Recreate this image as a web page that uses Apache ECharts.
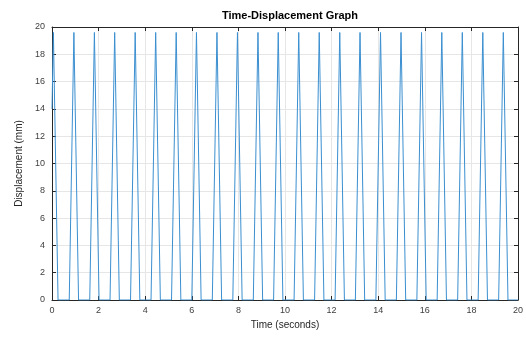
<!DOCTYPE html>
<html>
<head>
<meta charset="utf-8">
<script src="https://cdn.jsdelivr.net/npm/echarts@6/dist/echarts.min.js"></script>
<style>html,body{margin:0;padding:0;background:#fff}#c{width:526px;height:338px}</style>
</head>
<body>
<div id="c"></div>
<script>
// Time (s) of each vertex of the displacement curve
var timeSeconds = [
  0, 0.06, 0.26,
  0.74, 0.94, 1.14,
  1.62, 1.82, 2.02,
  2.49, 2.69, 2.89,
  3.37, 3.57, 3.77,
  4.25, 4.45, 4.65,
  5.13, 5.33, 5.53,
  6.00, 6.20, 6.40,
  6.88, 7.08, 7.28,
  7.76, 7.96, 8.16,
  8.64, 8.84, 9.04,
  9.51, 9.71, 9.91,
  10.39, 10.59, 10.79,
  11.27, 11.47, 11.67,
  12.15, 12.35, 12.55,
  13.02, 13.22, 13.42,
  13.90, 14.10, 14.30,
  14.78, 14.98, 15.18,
  15.66, 15.86, 16.06,
  16.53, 16.73, 16.93,
  17.41, 17.61, 17.81,
  18.29, 18.49, 18.69,
  19.17, 19.37, 19.57,
  20
];
// Displacement (mm) at each of those times
var displacementMm = [
  14, 19.6, 0,
  0, 19.6, 0,
  0, 19.6, 0,
  0, 19.6, 0,
  0, 19.6, 0,
  0, 19.6, 0,
  0, 19.6, 0,
  0, 19.6, 0,
  0, 19.6, 0,
  0, 19.6, 0,
  0, 19.6, 0,
  0, 19.6, 0,
  0, 19.6, 0,
  0, 19.6, 0,
  0, 19.6, 0,
  0, 19.6, 0,
  0, 19.6, 0,
  0, 19.6, 0,
  0, 19.6, 0,
  0, 19.6, 0,
  0, 19.6, 0,
  0, 19.6, 0,
  0, 19.6, 0,
  0
];
var xTicks = [0, 2, 4, 6, 8, 10, 12, 14, 16, 18, 20];
var yTicks = [0, 2, 4, 6, 8, 10, 12, 14, 16, 18, 20];

var pts = timeSeconds.map(function (t, i) { return [t, displacementMm[i]]; });
var chart = echarts.init(document.getElementById('c'), null, {renderer: 'canvas'});
var axisCol = '#262626';
var labelStyle = {color: '#404040', fontSize: 9, fontFamily: 'Liberation Sans, Arial, sans-serif'};
chart.setOption({
  animation: false,
  backgroundColor: '#ffffff',
  title: {
    text: 'Time-Displacement Graph',
    left: 285, top: 5, textAlign: 'center',
    textStyle: {fontSize: 11, fontWeight: 'bold', color: '#000', fontFamily: 'Liberation Sans, Arial, sans-serif'}
  },
  grid: {left: 52, right: 8, top: 27, bottom: 38},
  xAxis: [{
    type: 'value', min: xTicks[0], max: xTicks[xTicks.length - 1], interval: 2,
    name: 'Time (seconds)', nameLocation: 'middle', nameGap: 20,
    nameTextStyle: {fontSize: 10, color: '#262626', fontFamily: 'Liberation Sans, Arial, sans-serif'},
    axisLine: {show: true, lineStyle: {color: axisCol, width: 1}},
    axisTick: {show: true, inside: true, length: 4, lineStyle: {color: axisCol}},
    axisLabel: Object.assign({margin: 6}, labelStyle),
    splitLine: {show: true, lineStyle: {color: '#e6e6e6', width: 1}}
  }, {
    type: 'value', position: 'top', min: xTicks[0], max: xTicks[xTicks.length - 1], interval: 2,
    axisLine: {show: true, onZero: false, lineStyle: {color: axisCol, width: 1}},
    axisTick: {show: true, inside: true, length: 4, lineStyle: {color: axisCol}},
    axisLabel: {show: false}, splitLine: {show: false}
  }],
  yAxis: [{
    type: 'value', min: yTicks[0], max: yTicks[yTicks.length - 1], interval: 2,
    name: 'Displacement (mm)', nameLocation: 'middle', nameGap: 28,
    nameTextStyle: {fontSize: 10, color: '#262626', fontFamily: 'Liberation Sans, Arial, sans-serif'},
    axisLine: {show: true, lineStyle: {color: axisCol, width: 1}},
    axisTick: {show: true, inside: true, length: 4, lineStyle: {color: axisCol}},
    axisLabel: Object.assign({margin: 7}, labelStyle),
    splitLine: {show: true, lineStyle: {color: '#e6e6e6', width: 1}}
  }, {
    type: 'value', position: 'right', min: yTicks[0], max: yTicks[yTicks.length - 1], interval: 2,
    axisLine: {show: true, onZero: false, lineStyle: {color: axisCol, width: 1}},
    axisTick: {show: true, inside: true, length: 4, lineStyle: {color: axisCol}},
    axisLabel: {show: false}, splitLine: {show: false}
  }],
  series: [{
    type: 'line', xAxisIndex: 0, yAxisIndex: 0,
    data: pts, showSymbol: false, symbol: 'none',
    lineStyle: {color: '#3b8fd0', width: 1}
  }]
});
</script>
</body>
</html>
